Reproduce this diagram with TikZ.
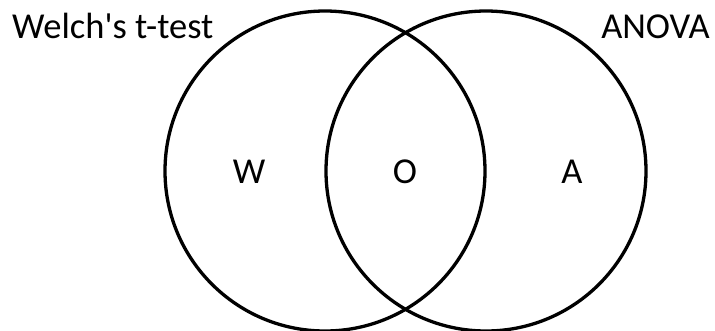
\documentclass[tikz,border=0pt]{standalone}
\usepackage{fontspec}
\newfontfamily\cfont{Carlito}
\begin{document}
\begin{tikzpicture}[x=1pt,y=-1pt,
  setc/.style={draw=black,line width=3.3pt,circle,minimum size=320pt,inner sep=0pt},
  lbl/.style={font=\cfont\fontsize{36.5}{40}\selectfont,inner sep=0pt}]
\useasboundingbox (0,0) rectangle (715,330);
\node[setc] (W) at (325,171) {};
\node[setc] (A) at (486,171) {};
\node[lbl,anchor=base] (w) at (249,183) {W};
\node[lbl,anchor=base] (o) at (405,183) {O};
\node[lbl,anchor=base] (a) at (572,183) {A};
\node[lbl,anchor=base west] (tw) at (12,38) {Welch's t-test};
\node[lbl,anchor=base east] (ta) at (710,38) {ANOVA};
\end{tikzpicture}
\end{document}
